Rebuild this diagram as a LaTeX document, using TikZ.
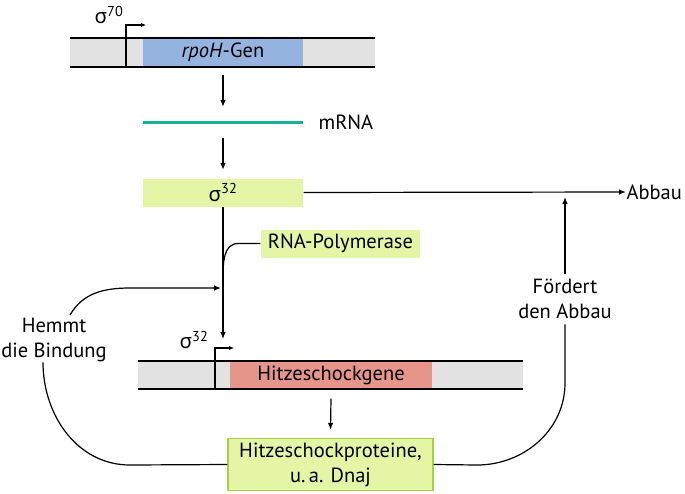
\documentclass[tikz,border=0pt]{standalone}
\usepackage{fontspec}
\setmainfont{PT Sans}
\newfontfamily\greekfont{Noto Sans}
\usetikzlibrary{arrows.meta}
\definecolor{genegray}{HTML}{E2E2E2}
\definecolor{geneblue}{HTML}{94B4DF}
\definecolor{mrnateal}{HTML}{1AAE9F}
\definecolor{sigmagreen}{HTML}{E4F5A6}
\definecolor{hspborder}{HTML}{A6D145}
\definecolor{genered}{HTML}{E5958A}
\newcommand{\sig}[1]{{\greekfont σ}\textsuperscript{#1}}

\begin{document}
\begin{tikzpicture}[
		x=1pt, y=-1pt,
		line width=1.2pt,
		every node/.style = {inner sep=0pt, align=center, font=\fontsize{20.5}{25}\selectfont},
		genebox/.style = {minimum height=28pt},
		arr/.style = {-{Latex[length=7pt,width=5.5pt]}},
		promo/.style = {-{Latex[length=5pt,width=4.5pt]}}]
		\useasboundingbox (0,0) rectangle (685,493);
		% rpoH gene
		\fill[genegray] (70,38) rectangle (375,67);
		\node[genebox, fill=geneblue, minimum width=160pt] (rpoh) at (223,52.5) {\textit{rpoH}-Gen};
		\draw (70,38) -- (375,38) (70,67) -- (375,67);
		\coordinate (prom1) at (126,67);
		\draw[promo] (prom1) |- ++(20,-42);
		\node (sig70) at (109,15) {\sig{70}};
		% mRNA
		\node[minimum width=160pt, minimum height=3pt, fill=mrnateal] (mrna) at (223,122) {};
		\node[anchor=west] (mrnalabel) at (318,122) {mRNA};
		\draw[arr] ([yshift=-8pt]rpoh.south) -- ([yshift=13pt]mrna.north);
		% sigma 32
		\node[genebox, fill=sigmagreen, minimum width=160pt] (sig32) at (223,192.5) {\sig{32}};
		\draw[arr] ([yshift=-14pt]mrna.south) -- ([yshift=8pt]sig32.north);
		\node[anchor=west] (abbau) at (626,192) {Abbau};
		\draw[arr] (sig32.east) -- (abbau.west);
		% RNA-Polymerase
		\node[genebox, fill=sigmagreen, minimum width=159pt] (rnap) at (340.5,243.5) {RNA-Polymerase};
		\coordinate (tip) at (223,339);
		\draw[arr] (sig32.south) -- (tip);
		\draw (rnap.west) -- (238,243.5) to[out=180,in=90] (223,278);
		% Hemmt die Bindung
		\node (hemmt) at (54,340) {Hemmt\\die Bindung};
		\coordinate (hemmtend) at (221,288);
		\draw[arr] (70,315) to[out=60,in=180] (130,288) -- (hemmtend);
		% Hitzeschockgene
		\fill[genegray] (138,361) rectangle (523,389);
		\node[genebox, fill=genered, minimum width=202pt] (hsg) at (331,375) {Hitzeschockgene};
		\draw (138,361) -- (523,361) (138,389) -- (523,389);
		\coordinate (prom2) at (215,389);
		\draw[promo] (prom2) |- ++(19,-41);
		\node (sig32b) at (194,340) {\sig{32}};
		% Hitzeschockproteine
		\node[minimum width=205pt, minimum height=52pt, fill=sigmagreen, draw=hspborder, line width=1.3pt] (hsp) at (330.5,464.5) {Hitzeschockproteine,\\u.\,a. Dnaj};
		\draw[arr] ([yshift=-9pt]hsg.south) -- ([yshift=8pt]hsp.north);
		\draw (hemmt.south -| 43,0) to[out=-90,in=180] (130,465) -- (hsp.west);
		% Foerdert den Abbau
		\node (foerdert) at (565,299) {Fördert\\den Abbau};
		\coordinate (abbaujunc) at (565,197);
		\draw[arr] ([yshift=5pt]foerdert.north) -- (abbaujunc);
		\draw ([yshift=-5pt]foerdert.south) -- (565,383) to[out=-90,in=0] (477,465) -- (hsp.east);
	\end{tikzpicture}
\end{document}
